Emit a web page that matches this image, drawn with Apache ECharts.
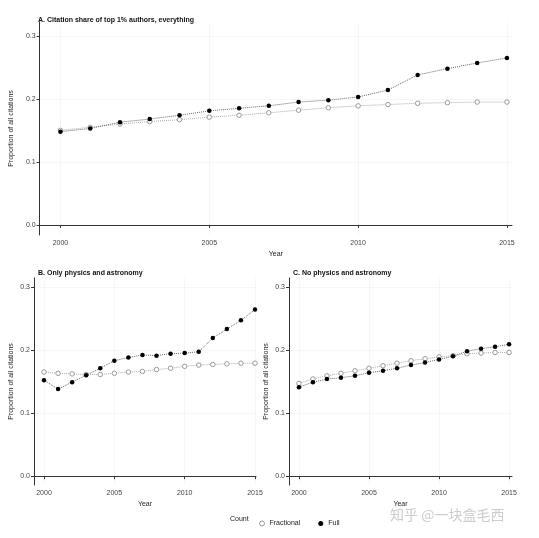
<!DOCTYPE html>
<html><head><meta charset="utf-8">
<script src="https://cdn.jsdelivr.net/npm/echarts@6/dist/echarts.min.js"></script>
<style>html,body{margin:0;padding:0;background:#fff}#c{width:539px;height:538px}</style>
</head><body><div id="c"></div>
<script>
var years = [2000,2001,2002,2003,2004,2005,2006,2007,2008,2009,2010,2011,2012,2013,2014,2015];
var aFull = [0.148,0.153,0.163,0.168,0.174,0.181,0.185,0.189,0.195,0.198,0.203,0.214,0.238,0.248,0.257,0.265];
var aFrac = [0.150,0.155,0.160,0.164,0.167,0.171,0.174,0.178,0.182,0.186,0.189,0.191,0.193,0.194,0.195,0.195];
var bFull = [0.152,0.138,0.149,0.160,0.171,0.183,0.188,0.192,0.191,0.194,0.195,0.197,0.219,0.233,0.247,0.264];
var bFrac = [0.165,0.163,0.162,0.161,0.161,0.163,0.165,0.166,0.169,0.171,0.174,0.176,0.177,0.178,0.179,0.179];
var cFull = [0.141,0.149,0.154,0.156,0.159,0.164,0.167,0.171,0.176,0.180,0.185,0.190,0.198,0.202,0.205,0.209];
var cFrac = [0.147,0.154,0.159,0.163,0.167,0.171,0.175,0.179,0.183,0.186,0.189,0.191,0.194,0.195,0.196,0.196];
var xTicks = [2000,2005,2010,2015];
var yTicks = [0,0.1,0.2,0.3];

var myChart = echarts.init(document.getElementById('c'));
function pairs(v){ return years.map(function(y,i){ return [y,v[i]]; }); }
var grids = [
	{left:34, top:22, width:478, height:213},
	{left:34, top:278, width:222, height:207},
	{left:289, top:278, width:223, height:207}
];
var xr = [[1999.3,2015.17],[1999.29,2015.07],[1999.29,2015.21]];
var yr = [[-0.016,0.322],[-0.014,0.314],[-0.014,0.314]];
var axisCommon = {
	axisLine:{show:true,lineStyle:{color:'#333',width:1}},
	splitLine:{show:true,lineStyle:{color:'#f0f0f0',width:0.6}}
};
var xAxis = [], yAxis = [];
for (var i = 0; i < 3; i++) {
	xAxis.push(Object.assign({}, axisCommon, {
		type:'value', gridIndex:i, min:xr[i][0], max:xr[i][1],
		name:'Year', nameLocation:'middle', nameGap:16,
		nameTextStyle:{fontSize:7, color:'#222', fontFamily:'Liberation Sans'},
		axisTick:{show:true,length:3,customValues:xTicks,lineStyle:{color:'#333'}},
		axisLabel:{customValues:xTicks,fontSize:7,color:'#444',margin:5,fontFamily:'Liberation Sans',
			formatter:function(v){ return String(v); }}
	}));
	yAxis.push(Object.assign({}, axisCommon, {
		type:'value', gridIndex:i, min:yr[i][0], max:yr[i][1],
		name:'Proportion of all citations', nameLocation:'middle', nameGap:19,
		nameTextStyle:{fontSize:7, color:'#222', fontFamily:'Liberation Sans'},
		axisTick:{show:true,length:3,customValues:yTicks,lineStyle:{color:'#333'}},
		axisLabel:{customValues:yTicks,fontSize:7,color:'#444',margin:4,fontFamily:'Liberation Sans',
			formatter:function(v){ return v.toFixed(1); }}
	}));
}
function frac(i, d){ return {name:'Fractional', type:'line', xAxisIndex:i, yAxisIndex:i, data:pairs(d),
	symbol:'circle', symbolSize:4.5, itemStyle:{color:'#fff', borderColor:'#999', borderWidth:1},
	lineStyle:{color:'#aaa', width:1, type:'dotted'}, z:2}; }
function full(i, d){ return {name:'Full', type:'line', xAxisIndex:i, yAxisIndex:i, data:pairs(d),
	symbol:'circle', symbolSize:4.5, itemStyle:{color:'#000'},
	lineStyle:{color:'#666', width:1, type:'dotted'}, z:3}; }

option = {
	animation:false,
	textStyle:{fontFamily:'Liberation Sans'},
	title:[
		{text:'A. Citation share of top 1% authors, everything', left:33, top:12, textStyle:{fontSize:7,fontWeight:'bold',color:'#111'}},
		{text:'B. Only physics and astronomy', left:33, top:265, textStyle:{fontSize:7,fontWeight:'bold',color:'#111'}},
		{text:'C. No physics and astronomy', left:288, top:265, textStyle:{fontSize:7,fontWeight:'bold',color:'#111'}}
	],
	legend:{left:254, top:515, itemWidth:5, itemHeight:5, itemGap:18,
		textStyle:{fontSize:7,color:'#222'},
		data:[{name:'Fractional', icon:'circle', itemStyle:{color:'#fff',borderColor:'#999',borderWidth:1}},
			{name:'Full', icon:'circle', itemStyle:{color:'#000'}}]},
	graphic:[{type:'text', left:230, top:516, style:{text:'Count', fontSize:7, fill:'#222'}},
		{type:'text', left:390, top:508, style:{text:'知乎 @一块盒毛西', fontSize:14, fill:'#ccc', fontFamily:'Noto Sans CJK SC'}}],
	grid:grids,
	xAxis:xAxis,
	yAxis:yAxis,
	series:[frac(0,aFrac), full(0,aFull), frac(1,bFrac), full(1,bFull), frac(2,cFrac), full(2,cFull)]
};
myChart.setOption(option);
</script></body></html>
